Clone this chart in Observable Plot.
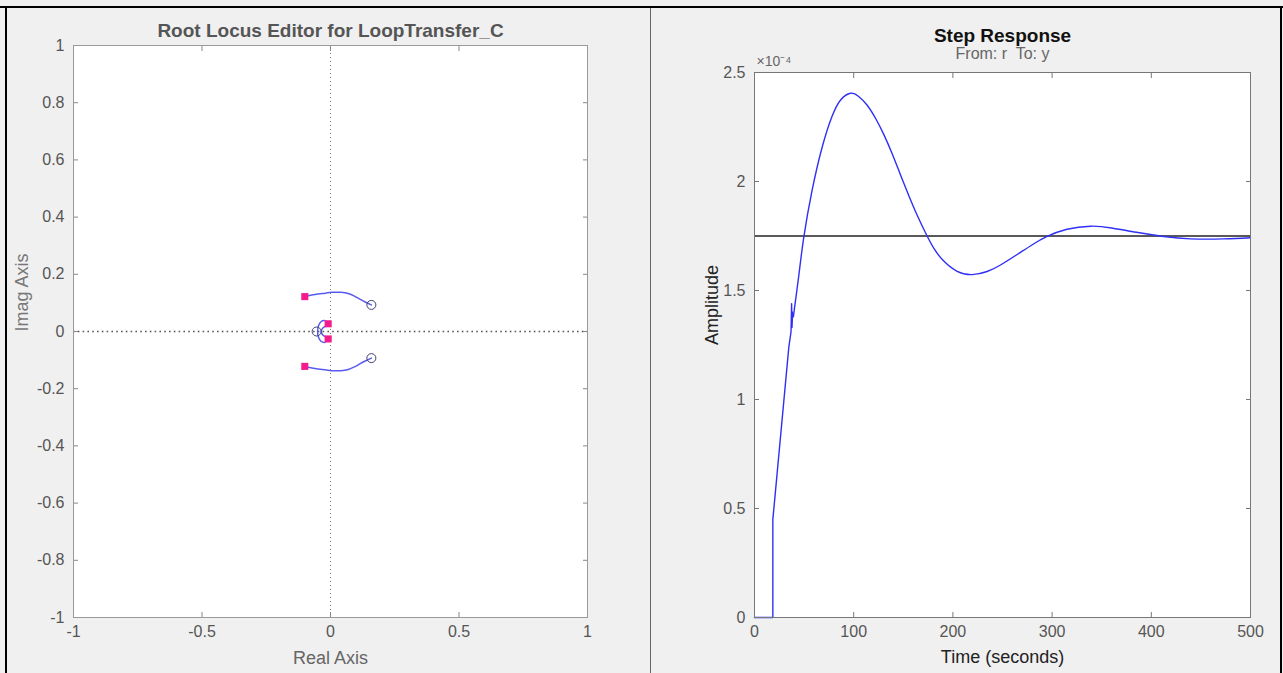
<!DOCTYPE html>
<html><head><meta charset="utf-8">
<script src="https://cdn.jsdelivr.net/npm/d3@7"></script>
<script src="https://cdn.jsdelivr.net/npm/@observablehq/plot@0.6"></script>
<style>
body{margin:0;background:#fff;}
#wrap{position:relative;width:1283px;height:673px;background:#f0f0f0;overflow:hidden;font-family:"Liberation Sans",Arial,sans-serif;}
.abs{position:absolute;}
</style></head>
<body><div id="wrap">
<div id="left" class="abs" style="left:0;top:0"></div>
<div id="right" class="abs" style="left:651px;top:0"></div>
<div class="abs" style="left:0;top:6px;width:1283px;height:2px;background:#000"></div>
<div class="abs" style="left:5px;top:6px;width:2px;height:667px;background:#000"></div>
<div class="abs" style="left:1280px;top:6px;width:2px;height:667px;background:#000"></div>
<div class="abs" style="left:650px;top:8px;width:1px;height:665px;background:#666"></div>
</div>
<script>
// ---------- Root locus data ----------
const rlXTicks = [-1, -0.5, 0, 0.5, 1];
const rlYTicks = [-1, -0.8, -0.6, -0.4, -0.2, 0, 0.2, 0.4, 0.6, 0.8, 1];
const poleRe = [-0.1, -0.1, -0.009, -0.009];
const poleIm = [0.122, -0.122, 0.027, -0.026];
const zeroRe = [0.159, 0.159, -0.054];
const zeroIm = [0.093, -0.093, 0];
// branch traces (re, im)
const branchUpperRe = [-0.1, -0.06, -0.02, 0.004, 0.04, 0.069, 0.095, 0.114, 0.135, 0.159];
const branchUpperIm = [0.122, 0.129, 0.134, 0.137, 0.137, 0.133, 0.123, 0.113, 0.103, 0.093];
const branchLowerRe = [-0.1, -0.06, -0.02, 0.004, 0.04, 0.069, 0.095, 0.114, 0.135, 0.159];
const branchLowerIm = [-0.122, -0.129, -0.134, -0.137, -0.137, -0.133, -0.123, -0.113, -0.103, -0.093];
const branchOuterRe = [-0.009, -0.022, -0.037, -0.047, -0.05, -0.047, -0.037, -0.022, -0.009];
const branchOuterIm = [0.027, 0.038, 0.034, 0.019, 0, -0.019, -0.034, -0.038, -0.026];
const branchInnerRe = [-0.016, -0.029, -0.036, -0.029, -0.016];
const branchInnerIm = [0.019, 0.013, 0, -0.013, -0.019];

// ---------- Step response data (amplitude in units of 1e-4) ----------
const stepXTicks = [0, 100, 200, 300, 400, 500];
const stepYTicks = [0, 0.5, 1, 1.5, 2, 2.5];
const riseT = [0, 18.5, 18.5, 34.6, 36.8, 37.4, 37.8, 38.4, 39.2];
const riseA = [0, 0, 0.45, 1.24, 1.31, 1.44, 1.33, 1.40, 1.38];
const smoothT = [39.2, 44.7, 49.7, 58.1, 68.2, 78.3, 87, 96.8, 105, 113.6, 122, 130.4, 139, 147.2, 156, 164, 174, 182, 190.8, 204.3, 219.4, 234.5, 248, 264.8, 280, 295, 315, 338.7, 360, 385, 412.6, 439.5, 473, 500];
const smoothA = [1.38, 1.57, 1.745, 1.96, 2.157, 2.30, 2.375, 2.405, 2.39, 2.35, 2.29, 2.215, 2.125, 2.03, 1.93, 1.845, 1.75, 1.685, 1.635, 1.588, 1.573, 1.587, 1.617, 1.665, 1.71, 1.748, 1.781, 1.795, 1.787, 1.767, 1.748, 1.737, 1.737, 1.742];
const steadyState = [1.75];

const zip = (a, b) => a.map((v, i) => ({x: v, y: b[i]}));
const fmt = d => String(d);
const FONT = "Liberation Sans, Arial, sans-serif";
const LC = "#5a5af0";

const leftPlot = Plot.plot({
  width: 651, height: 673,
  marginLeft: 73, marginRight: 64, marginTop: 45, marginBottom: 56,
  style: {background: "transparent", fontFamily: FONT, fontSize: "16px", color: "#555"},
  x: {domain: [-1, 1]},
  y: {domain: [-1, 1]},
  marks: [
    Plot.frame({fill: "white", stroke: "none"}),
    Plot.ruleX([0], {stroke: "#777", strokeDasharray: "1,3"}),
    Plot.ruleY([0], {stroke: "#555", strokeWidth: 1.6, strokeDasharray: "1.6,3.2"}),
    Plot.axisX({ticks: rlXTicks, anchor: "bottom", tickSize: 0, tickPadding: 8, tickFormat: fmt, label: null, fill: "#555"}),
    Plot.axisY({ticks: rlYTicks, anchor: "left", tickSize: 0, tickPadding: 9, tickFormat: fmt, label: null, fill: "#555"}),
    Plot.axisX({ticks: rlXTicks, anchor: "bottom", tickSize: -5, fill: "none", stroke: "#888", label: null}),
    Plot.axisX({ticks: rlXTicks, anchor: "top", tickSize: -5, fill: "none", stroke: "#888", label: null}),
    Plot.axisY({ticks: rlYTicks, anchor: "left", tickSize: -5, fill: "none", stroke: "#888", label: null}),
    Plot.axisY({ticks: rlYTicks, anchor: "right", tickSize: -5, fill: "none", stroke: "#888", label: null}),
    Plot.line(zip(branchUpperRe, branchUpperIm), {x: "x", y: "y", stroke: LC, strokeWidth: 1.5, curve: "catmull-rom"}),
    Plot.line(zip(branchLowerRe, branchLowerIm), {x: "x", y: "y", stroke: LC, strokeWidth: 1.5, curve: "catmull-rom"}),
    Plot.line(zip(branchOuterRe, branchOuterIm), {x: "x", y: "y", stroke: LC, strokeWidth: 1.5, curve: "catmull-rom"}),
    Plot.line(zip(branchInnerRe, branchInnerIm), {x: "x", y: "y", stroke: LC, strokeWidth: 1.5, curve: "catmull-rom"}),
    Plot.dot(zip(zeroRe, zeroIm), {x: "x", y: "y", r: 4.5, stroke: "#404070", strokeWidth: 1, fill: "none"}),
    Plot.dot(zip(poleRe, poleIm), {x: "x", y: "y", symbol: "square", r: 4, fill: "#f41c8c", stroke: "none"}),
    Plot.frame({stroke: "#999"}),
    Plot.text(["Root Locus Editor for LoopTransfer_C"], {frameAnchor: "top", lineAnchor: "middle", dy: -15, fontSize: 19, fontWeight: "bold", fill: "#555"}),
    Plot.text(["Real Axis"], {frameAnchor: "bottom", lineAnchor: "middle", dy: 41, fontSize: 18, fill: "#666"}),
    Plot.text(["Imag Axis"], {frameAnchor: "left", lineAnchor: "middle", dx: -51, rotate: -90, fontSize: 18, fill: "#777"})
  ]
});
document.getElementById("left").appendChild(leftPlot);

const rightPlot = Plot.plot({
  width: 632, height: 673,
  marginLeft: 103, marginRight: 33, marginTop: 72, marginBottom: 56,
  style: {background: "transparent", fontFamily: FONT, fontSize: "16px", color: "#555"},
  x: {domain: [0, 500]},
  y: {domain: [0, 2.5]},
  marks: [
    Plot.frame({fill: "white", stroke: "none"}),
    Plot.axisX({ticks: stepXTicks, anchor: "bottom", tickSize: 0, tickPadding: 8, tickFormat: fmt, label: null, fill: "#555"}),
    Plot.axisY({ticks: stepYTicks, anchor: "left", tickSize: 0, tickPadding: 9, tickFormat: fmt, label: null, fill: "#555"}),
    Plot.axisX({ticks: stepXTicks, anchor: "bottom", tickSize: -5, fill: "none", stroke: "#777", label: null}),
    Plot.axisX({ticks: stepXTicks, anchor: "top", tickSize: -5, fill: "none", stroke: "#777", label: null}),
    Plot.axisY({ticks: stepYTicks, anchor: "left", tickSize: -5, fill: "none", stroke: "#777", label: null}),
    Plot.axisY({ticks: stepYTicks, anchor: "right", tickSize: -5, fill: "none", stroke: "#777", label: null}),
    Plot.ruleY(steadyState, {stroke: "#222", strokeWidth: 1.3}),
    Plot.line(zip(riseT, riseA), {x: "x", y: "y", stroke: "#2f2ff5", strokeWidth: 1.4}),
    Plot.line(zip(smoothT, smoothA), {x: "x", y: "y", stroke: "#2f2ff5", strokeWidth: 1.4, curve: "natural"}),
    Plot.frame({stroke: "#777"}),
    Plot.text(["Step Response"], {frameAnchor: "top", lineAnchor: "middle", dy: -37, fontSize: 19, fontWeight: "bold", fill: "#111"}),
    Plot.text(["From: r  To: y"], {frameAnchor: "top", lineAnchor: "middle", dy: -19, fontSize: 16, fill: "#666"}),
    Plot.text(["×10⁻⁴"], {frameAnchor: "top-left", lineAnchor: "middle", dx: 2, dy: -11, textAnchor: "start", fontSize: 14, fill: "#666"}),
    Plot.text(["Time (seconds)"], {frameAnchor: "bottom", lineAnchor: "middle", dy: 40, fontSize: 18, fill: "#222"}),
    Plot.text(["Amplitude"], {frameAnchor: "left", lineAnchor: "middle", dx: -42, rotate: -90, fontSize: 18, fill: "#222"})
  ]
});
document.getElementById("right").appendChild(rightPlot);
</script>
</body></html>
